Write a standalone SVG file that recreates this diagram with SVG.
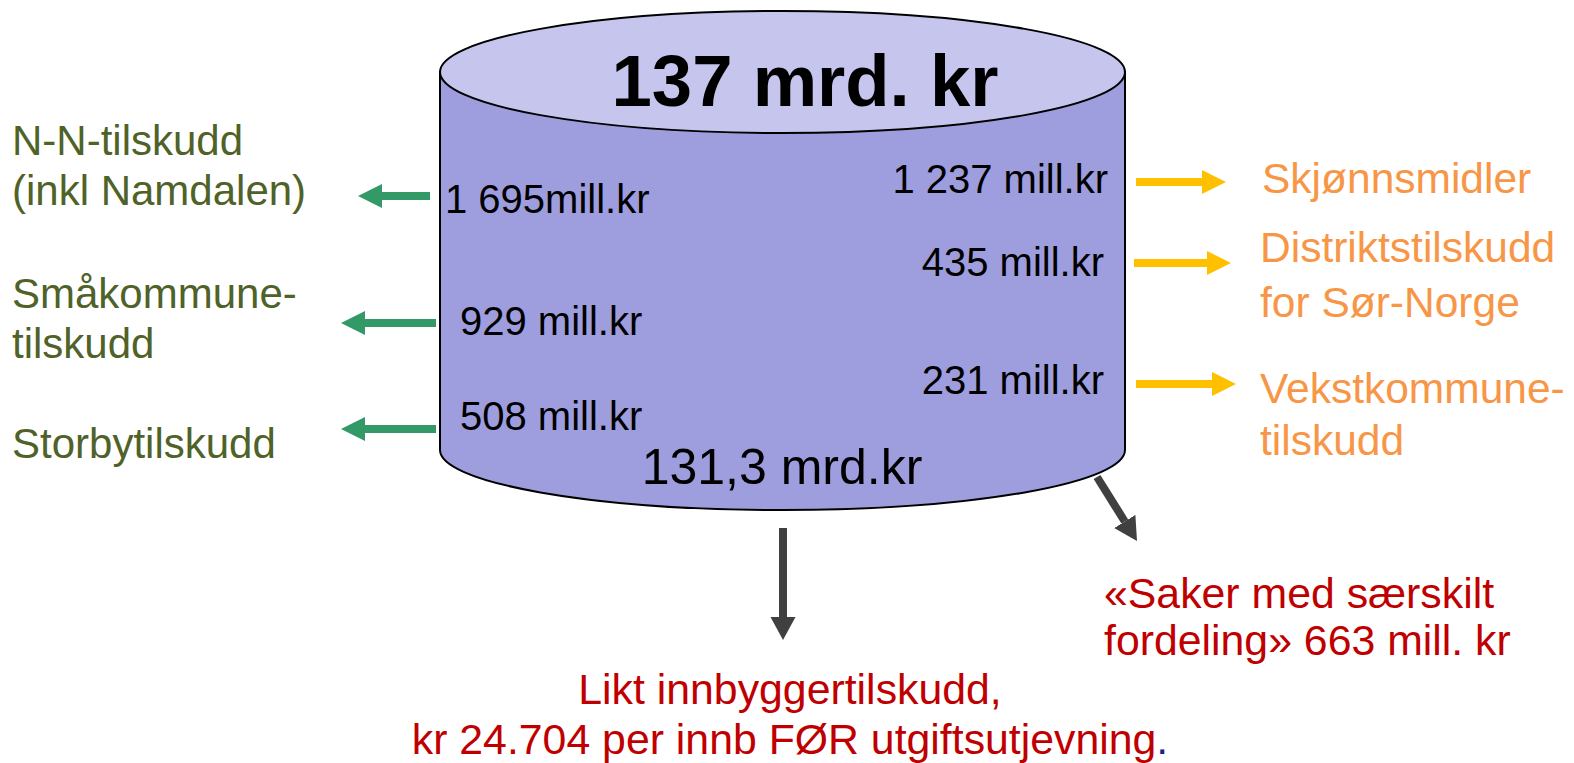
<svg xmlns="http://www.w3.org/2000/svg" width="1574" height="763" viewBox="0 0 1574 763">
<style>
text{font-family:"Liberation Sans",Arial,sans-serif;}
.amt{font-size:40px;fill:#000;}
.gl{font-size:42px;fill:#4F6228;}
.or{font-size:42.5px;fill:#F79646;}
.rd{font-size:42.8px;fill:#C00000;}
.ga{stroke:#339966;stroke-width:8;fill:none;}
.ya{stroke:#FFC000;stroke-width:8;fill:none;}
.da{stroke:#404040;stroke-width:8;fill:none;}
</style>
<defs>
<marker id="hg" markerUnits="userSpaceOnUse" markerWidth="26" markerHeight="26" viewBox="0 -13 26 26" refX="0" refY="0" orient="auto"><path d="M0,-12 L24,0 L0,12 z" fill="#339966"/></marker>
<marker id="hy" markerUnits="userSpaceOnUse" markerWidth="26" markerHeight="26" viewBox="0 -13 26 26" refX="0" refY="0" orient="auto"><path d="M0,-12 L24,0 L0,12 z" fill="#FFC000"/></marker>
<marker id="hd" markerUnits="userSpaceOnUse" markerWidth="26" markerHeight="26" viewBox="0 -13 26 26" refX="0" refY="0" orient="auto"><path d="M0,-12.5 L23,0 L0,12.5 z" fill="#404040"/></marker>
</defs>
<rect width="1574" height="763" fill="#fff"/>
<g id="cylinder">
<path d="M440,72 L440,450 A342.5,60 0 0 0 1125,450 L1125,72 Z" fill="#9E9EDE" stroke="#000" stroke-width="2"/>
<ellipse cx="782.5" cy="72" rx="342.5" ry="61" fill="#C5C5EE" stroke="#000" stroke-width="2"/>
<text x="805" y="106" text-anchor="middle" font-size="72.5" font-weight="bold">137 mrd. kr</text>
<text x="782" y="484" text-anchor="middle" font-size="50">131,3 mrd.kr</text>
<text class="amt" x="445" y="213">1 695mill.kr</text>
<text class="amt" x="460" y="335">929 mill.kr</text>
<text class="amt" x="460" y="430">508 mill.kr</text>
<text class="amt" x="1108" y="193" text-anchor="end">1 237 mill.kr</text>
<text class="amt" x="1104" y="276" text-anchor="end">435 mill.kr</text>
<text class="amt" x="1104" y="394" text-anchor="end">231 mill.kr</text>
</g>
<g id="connectors">
<line class="ga" x1="430" y1="196" x2="382" y2="196" marker-end="url(#hg)"/>
<line class="ga" x1="436" y1="323" x2="365" y2="323" marker-end="url(#hg)"/>
<line class="ga" x1="436" y1="429" x2="365" y2="429" marker-end="url(#hg)"/>
<line class="ya" x1="1136" y1="182" x2="1202" y2="182" marker-end="url(#hy)"/>
<line class="ya" x1="1134" y1="263" x2="1207" y2="263" marker-end="url(#hy)"/>
<line class="ya" x1="1136" y1="384" x2="1212" y2="384" marker-end="url(#hy)"/>
<line class="da" x1="783" y1="528" x2="783" y2="617" marker-end="url(#hd)"/>
<line class="da" x1="1097" y1="477" x2="1124.8" y2="521.5" marker-end="url(#hd)"/>
</g>
<g id="nn">
<text class="gl" x="12" y="155">N-N-tilskudd</text>
<text class="gl" x="12" y="205">(inkl Namdalen)</text>
</g>
<g id="smakommune">
<text class="gl" x="12" y="308">Småkommune-</text>
<text class="gl" x="12" y="358">tilskudd</text>
</g>
<g id="storby">
<text class="gl" x="12" y="458">Storbytilskudd</text>
</g>
<g id="skjonn">
<text class="or" x="1262" y="193">Skjønnsmidler</text>
</g>
<g id="distrikt">
<text class="or" x="1260" y="262">Distriktstilskudd</text>
<text class="or" x="1260" y="317">for Sør-Norge</text>
</g>
<g id="vekst">
<text class="or" x="1260" y="403">Vekstkommune-</text>
<text class="or" x="1260" y="455">tilskudd</text>
</g>
<g id="saker">
<text class="rd" x="1104" y="608">«Saker med særskilt</text>
<text class="rd" x="1104" y="655">fordeling» 663 mill. kr</text>
</g>
<g id="likt">
<text class="rd" x="790" y="704" text-anchor="middle">Likt innbyggertilskudd,</text>
<text class="rd" x="790" y="754" text-anchor="middle">kr 24.704 per innb FØR utgiftsutjevning<tspan fill="#1F1F8F">.</tspan></text>
</g>
</svg>
